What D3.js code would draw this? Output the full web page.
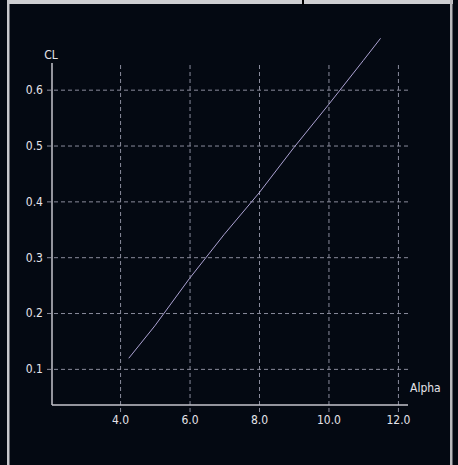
<!DOCTYPE html>
<html>
<head>
<meta charset="utf-8">
<script src="https://cdn.jsdelivr.net/npm/d3@7"></script>
<style>
  html, body { margin: 0; padding: 0; background: #040912; }
  svg { display: block; }
  text { font-family: "Liberation Sans Narrow", "DejaVu Sans Condensed", sans-serif; fill: #e4e4ea; }
</style>
</head>
<body>
<svg id="chart" width="458" height="465"></svg>
<script>
// Lift coefficient versus angle of attack
const alpha = [4.25, 5, 6, 7, 8, 9, 10, 11, 11.5];
const cl = [0.119, 0.177, 0.262, 0.341, 0.415, 0.496, 0.573, 0.652, 0.692];
const xTicks = [4, 6, 8, 10, 12];
const yTicks = [0.1, 0.2, 0.3, 0.4, 0.5, 0.6];
const xTitle = "Alpha";
const yTitle = "CL";

const W = 458, H = 465;
const svg = d3.select("#chart");

// window frame
svg.append("rect").attr("x", 0).attr("y", 0).attr("width", W).attr("height", H).attr("fill", "#040912");
svg.append("rect").attr("x", 7).attr("y", 0).attr("width", 446).attr("height", 4).attr("fill", "#cfcfd2");
svg.append("rect").attr("x", 7).attr("y", 0).attr("width", 2.5).attr("height", H).attr("fill", "#c8c8cc");
svg.append("rect").attr("x", 450).attr("y", 0).attr("width", 2.5).attr("height", H).attr("fill", "#b8b8bc");
svg.append("rect").attr("x", 302).attr("y", 0).attr("width", 2).attr("height", 5).attr("fill", "#000");

const mLeft = 52, mRight = 408, mTop = 64, mBottom = 405;
const x = d3.scaleLinear().domain([2.04, 12.29]).range([mLeft, mRight]);
const y = d3.scaleLinear().domain([0.0353, 0.646]).range([mBottom, mTop]);

const gridColor = "#8a8c9c";
const fontSize = 12;

// horizontal grid lines with left tick stubs
const gy = svg.append("g")
  .attr("transform", `translate(${mRight},0)`)
  .call(d3.axisLeft(y).tickValues(yTicks).tickSize(mRight - mLeft + 5).tickFormat(d3.format(".1f")).tickPadding(4));
gy.select(".domain").remove();
gy.selectAll("line").attr("stroke", gridColor).attr("stroke-dasharray", "4,3");
gy.selectAll("text").attr("font-size", fontSize).attr("fill", "#e4e4ea");

// vertical grid lines with bottom tick stubs
const gx = svg.append("g")
  .attr("transform", `translate(0,${mTop + 1})`)
  .call(d3.axisBottom(x).tickValues(xTicks).tickSize(mBottom - mTop + 6).tickFormat(d3.format(".1f")).tickPadding(3));
gx.select(".domain").remove();
gx.selectAll("line").attr("stroke", gridColor).attr("stroke-dasharray", "4,3");
gx.selectAll("text").attr("font-size", fontSize).attr("fill", "#e4e4ea");

// axis lines
svg.append("line").attr("x1", mLeft).attr("x2", mLeft).attr("y1", mTop - 1).attr("y2", mBottom)
  .attr("stroke", "#c4c4cc").attr("stroke-width", 1.5);
svg.append("line").attr("x1", mLeft).attr("x2", mRight).attr("y1", mBottom).attr("y2", mBottom)
  .attr("stroke", "#c4c4cc").attr("stroke-width", 1.5);

// axis titles
svg.append("text").attr("x", mLeft - 1).attr("y", 59).attr("text-anchor", "middle")
  .attr("font-size", fontSize).text(yTitle);
svg.append("text").attr("x", 410).attr("y", 392).attr("text-anchor", "start")
  .attr("font-size", fontSize).text(xTitle);

// curve
const pts = alpha.map((a, i) => [a, cl[i]]);
svg.append("path")
  .datum(pts)
  .attr("fill", "none")
  .attr("stroke", "#aca2d2")
  .attr("stroke-width", 1)
  .attr("d", d3.line().x(d => x(d[0])).y(d => y(d[1])));
</script>
</body>
</html>
